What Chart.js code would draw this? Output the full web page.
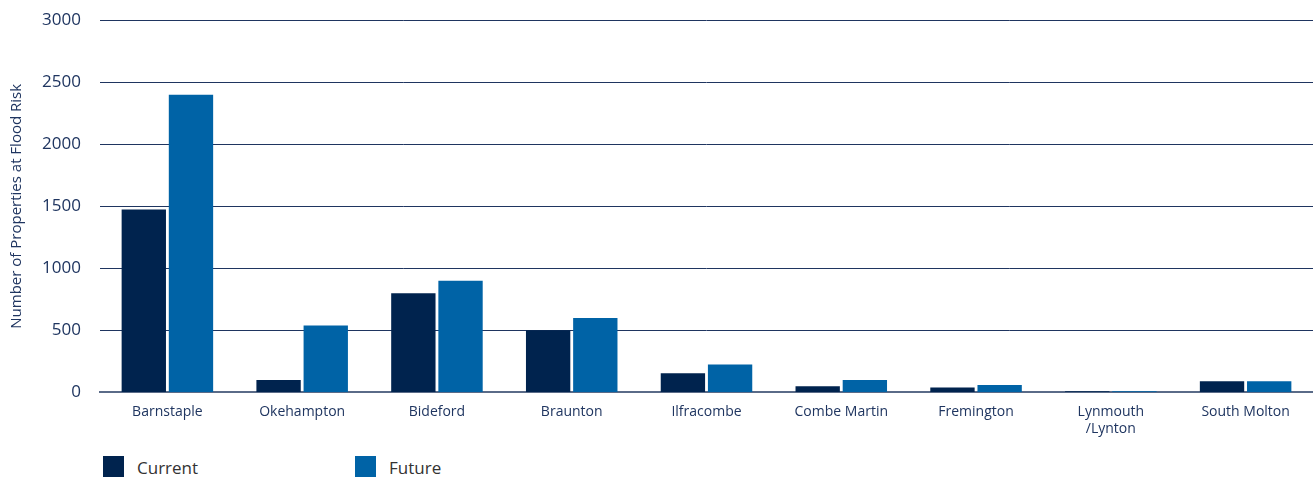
<!DOCTYPE html>
<html>
<head>
<meta charset="utf-8">
<script src="https://cdn.jsdelivr.net/npm/chart.js@4.4.0/dist/chart.umd.min.js"></script>
<style>
  html, body { margin: 0; padding: 0; background: #fff; overflow: hidden; }
  #wrap { position: relative; width: 1313px; height: 477px; overflow: hidden; }
  #floodChart { position: absolute; left: 0; top: -9px; }
  #legend { position: absolute; left: 103px; top: 456px; font-family: "Open Sans", sans-serif; font-size: 17px; color: #333; }
  #legend span.item { position: absolute; top: 0; white-space: nowrap; }
  #legend span.box { display: inline-block; width: 21px; height: 21px; vertical-align: top; margin-right: 13px; }
</style>
</head>
<body>
<div id="wrap">
  <canvas id="floodChart" width="1313" height="449"></canvas>
  <div id="legend"></div>
</div>
<script>
const towns = ['Barnstaple', 'Okehampton', 'Bideford', 'Braunton', 'Ilfracombe', 'Combe Martin', 'Fremington', ['Lynmouth', '/Lynton'], 'South Molton'];
const current = [1475, 100, 800, 500, 155, 50, 40, 10, 90];
const future = [2400, 540, 900, 600, 225, 100, 60, 10, 90];
const yTicks = [0, 500, 1000, 1500, 2000, 2500, 3000];

const navy = '#1f3560';

const ctx = document.getElementById('floodChart').getContext('2d');
const chart = new Chart(ctx, {
  type: 'bar',
  data: {
    labels: towns,
    datasets: [
      {
        label: 'Current',
        data: current,
        backgroundColor: '#00234e',
        barPercentage: 0.94,
        categoryPercentage: 0.7,
      },
      {
        label: 'Future',
        data: future,
        backgroundColor: '#0063a6',
        barPercentage: 0.94,
        categoryPercentage: 0.7,
      }
    ]
  },
  options: {
    responsive: false,
    animation: false,
    layout: { padding: { top: 3, right: 0, left: 8, bottom: 0 } },
    plugins: {
      legend: { display: false },
      tooltip: { enabled: false }
    },
    scales: {
      x: {
        grid: { display: false },
        border: { display: true, color: '#5a6b88', width: 2 },
        ticks: {
          color: navy,
          font: { family: 'Open Sans', size: 14 },
          padding: 3,
          maxRotation: 0,
          autoSkip: false
        }
      },
      y: {
        min: 0,
        max: 3000,
        afterFit: scale => { scale.width = 92; },
        afterBuildTicks: scale => { scale.ticks = yTicks.map(v => ({ value: v })); },
        grid: {
          color: navy,
          lineWidth: 1,
          drawTicks: false
        },
        border: { display: false },
        ticks: {
          color: navy,
          font: { family: 'Open Sans', size: 17 },
          padding: 19,
          callback: v => String(v)
        },
        title: {
          display: true,
          text: 'Number of Properties at Flood Risk',
          color: navy,
          font: { family: 'Open Sans', size: 15 },
          padding: { top: 0, bottom: 0 }
        }
      }
    }
  }
});

// simple legend under the chart
const legend = document.getElementById('legend');
const legendX = [0, 252];
chart.data.datasets.forEach((ds, i) => {
  const item = document.createElement('span');
  item.className = 'item';
  item.style.left = legendX[i] + 'px';
  item.innerHTML = '<span class="box" style="background:' + ds.backgroundColor + '"></span>' + ds.label;
  legend.appendChild(item);
});
</script>
</body>
</html>
